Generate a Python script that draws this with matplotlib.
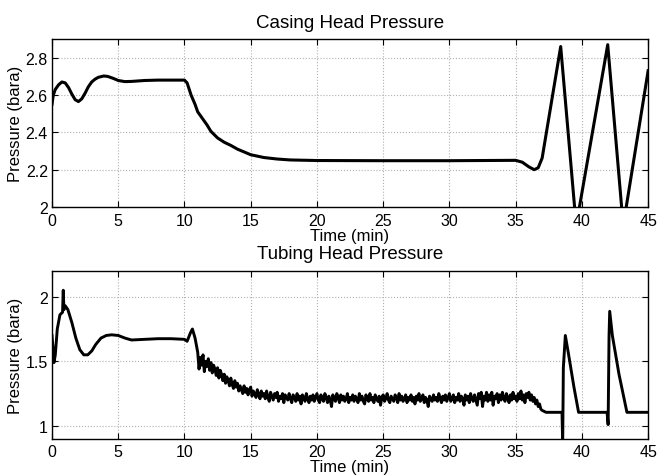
import numpy as np
import matplotlib.pyplot as plt

plt.rcParams['font.family'] = ['Liberation Sans', 'DejaVu Sans']

# --- Casing head pressure (bara) vs time (min) ---
t_chp = [0.0, 0.1, 0.25, 0.5, 0.75, 1.0, 1.25, 1.5, 1.75, 2.0, 2.25, 2.5, 2.75, 3.0,
         3.25, 3.5, 3.9, 4.2, 4.6, 5.0, 5.5, 6.0, 7.0, 8.0, 9.0, 10.0, 10.2, 10.5,
         10.8, 11.0, 11.3, 11.5, 11.7, 12.0, 12.5, 13.0, 13.5, 14.0, 15.0, 16.0,
         17.0, 18.0, 20.0, 25.0, 30.0, 35.0, 35.5, 36.0, 36.4, 36.7, 37.0, 38.4,
         39.57, 41.95, 43.12, 45.0]
p_chp = [2.55, 2.60, 2.63, 2.655, 2.67, 2.665, 2.64, 2.605, 2.575, 2.565, 2.58,
         2.61, 2.645, 2.67, 2.685, 2.695, 2.702, 2.70, 2.69, 2.678, 2.672, 2.673,
         2.678, 2.68, 2.68, 2.68, 2.665, 2.60, 2.55, 2.51, 2.48, 2.46, 2.44, 2.405,
         2.37, 2.347, 2.33, 2.31, 2.28, 2.265, 2.257, 2.252, 2.249, 2.248, 2.248,
         2.25, 2.24, 2.215, 2.20, 2.21, 2.262, 2.86, 1.90, 2.87, 1.90, 2.73]

# --- Tubing head pressure (bara) vs time (min) ---
t_thp_a = [0.0, 0.08, 0.15, 0.25, 0.4, 0.6, 0.8, 0.85, 0.9, 1.0, 1.2, 1.5, 1.8, 2.1,
           2.4, 2.7, 3.0, 3.3, 3.7, 4.1, 4.5, 5.0, 5.5, 6.0, 7.0, 8.0, 9.0, 10.0,
           10.2, 10.45, 10.6, 10.8]
p_thp_a = [1.70, 1.60, 1.49, 1.55, 1.75, 1.86, 1.88, 2.05, 1.90, 1.93, 1.90, 1.80,
           1.68, 1.59, 1.55, 1.55, 1.58, 1.63, 1.68, 1.70, 1.705, 1.70, 1.68, 1.665,
           1.67, 1.675, 1.675, 1.67, 1.655, 1.72, 1.75, 1.68]

# noisy stretch, one row per minute, samples every 0.1 min from 11.0 to 36.9
p_thp_noisy = [
    1.57, 1.44, 1.53, 1.47, 1.55, 1.42, 1.50, 1.46, 1.52, 1.43,   # 11
    1.49, 1.41, 1.47, 1.44, 1.39, 1.45, 1.37, 1.43, 1.40, 1.35,   # 12
    1.40, 1.33, 1.38, 1.35, 1.31, 1.37, 1.32, 1.29, 1.35, 1.30,   # 13
    1.33, 1.27, 1.31, 1.28, 1.25, 1.31, 1.26, 1.29, 1.24, 1.28,   # 14
    1.30, 1.23, 1.27, 1.25, 1.22, 1.28, 1.24, 1.21, 1.27, 1.23,   # 15
    1.25, 1.21, 1.27, 1.22, 1.19, 1.26, 1.23, 1.20, 1.25, 1.22,   # 16
    1.26, 1.19, 1.23, 1.21, 1.25, 1.18, 1.24, 1.22, 1.20, 1.25,   # 17
    1.21, 1.18, 1.24, 1.22, 1.19, 1.25, 1.20, 1.23, 1.17, 1.24,   # 18
    1.22, 1.19, 1.25, 1.21, 1.18, 1.23, 1.20, 1.24, 1.19, 1.22,   # 19
    1.25, 1.20, 1.18, 1.24, 1.21, 1.19, 1.25, 1.22, 1.18, 1.23,   # 20
    1.20, 1.15, 1.24, 1.21, 1.19, 1.25, 1.22, 1.18, 1.24, 1.20,   # 21
    1.23, 1.19, 1.21, 1.25, 1.18, 1.22, 1.20, 1.24, 1.19, 1.23,   # 22
    1.21, 1.18, 1.25, 1.20, 1.23, 1.19, 1.17, 1.24, 1.21, 1.19,   # 23
    1.25, 1.20, 1.22, 1.18, 1.24, 1.21, 1.19, 1.23, 1.16, 1.22,   # 24
    1.24, 1.19, 1.21, 1.25, 1.20, 1.18, 1.23, 1.21, 1.19, 1.24,   # 25
    1.22, 1.18, 1.25, 1.20, 1.23, 1.19, 1.21, 1.24, 1.18, 1.22,   # 26
    1.20, 1.24, 1.19, 1.22, 1.17, 1.23, 1.20, 1.25, 1.19, 1.21,   # 27
    1.24, 1.18, 1.22, 1.20, 1.15, 1.23, 1.21, 1.19, 1.24, 1.20,   # 28
    1.22, 1.19, 1.25, 1.21, 1.18, 1.23, 1.20, 1.24, 1.19, 1.22,   # 29
    1.25, 1.19, 1.21, 1.24, 1.18, 1.22, 1.20, 1.25, 1.19, 1.23,   # 30
    1.21, 1.16, 1.24, 1.20, 1.23, 1.18, 1.25, 1.21, 1.19, 1.24,   # 31
    1.20, 1.16, 1.25, 1.21, 1.26, 1.15, 1.23, 1.20, 1.26, 1.19,   # 32
    1.24, 1.20, 1.26, 1.16, 1.23, 1.21, 1.25, 1.18, 1.24, 1.20,   # 33
    1.26, 1.21, 1.19, 1.25, 1.22, 1.18, 1.24, 1.20, 1.26, 1.21,   # 34
    1.23, 1.19, 1.25, 1.21, 1.27, 1.20, 1.24, 1.18, 1.25, 1.22,   # 35
    1.26, 1.20, 1.24, 1.19, 1.22, 1.17, 1.20, 1.15, 1.17, 1.13,   # 36
]

t_thp_b = [37.0, 37.3, 38.5, 38.55, 38.6, 38.75, 39.0, 39.4, 39.75, 41.9, 41.98,
           42.05, 42.1, 42.3, 42.8, 43.4, 45.0]
p_thp_b = [1.12, 1.105, 1.105, 0.85, 1.45, 1.70, 1.55, 1.30, 1.105, 1.105, 1.01,
           1.70, 1.887, 1.70, 1.40, 1.105, 1.105]

t_noisy = np.round(np.arange(len(p_thp_noisy)) * 0.1 + 11.0, 2)
t_thp = np.concatenate([t_thp_a, t_noisy, t_thp_b])
p_thp = np.concatenate([p_thp_a, p_thp_noisy, p_thp_b])

fig = plt.figure(figsize=(6.58, 4.77), dpi=100)
ax1 = fig.add_axes([0.079, 0.564, 0.906, 0.352])
ax2 = fig.add_axes([0.079, 0.078, 0.906, 0.352])

ax1.plot(t_chp, p_chp, color='black', linewidth=2.2)
ax1.set_ylim(2.0, 2.9)
ax1.set_yticks([2.0, 2.2, 2.4, 2.6, 2.8])
ax1.set_yticklabels(['2', '2.2', '2.4', '2.6', '2.8'])
ax1.set_title('Casing Head Pressure', fontsize=13.5, pad=9)

ax2.plot(t_thp, p_thp, color='black', linewidth=2.1)
ax2.set_ylim(0.9, 2.2)
ax2.set_yticks([1.0, 1.5, 2.0])
ax2.set_yticklabels(['1', '1.5', '2'])
ax2.set_title('Tubing Head Pressure', fontsize=13.5, pad=9)

for ax in (ax1, ax2):
    ax.set_xlim(0, 45)
    ax.set_xticks(range(0, 50, 5))
    ax.set_xlabel('Time (min)', fontsize=12, labelpad=0)
    ax.set_ylabel('Pressure (bara)', fontsize=12, labelpad=2)
    ax.grid(True, color='#b0b0b0', linestyle=':', linewidth=0.8)
    ax.tick_params(axis='x', pad=4)
    ax.tick_params(direction='in', top=True, right=True, labelsize=11.5, length=4)
    ax.tick_params(axis='y', pad=3)
    for s in ax.spines.values():
        s.set_linewidth(1.0)

fig.savefig('out.png', dpi=100)
